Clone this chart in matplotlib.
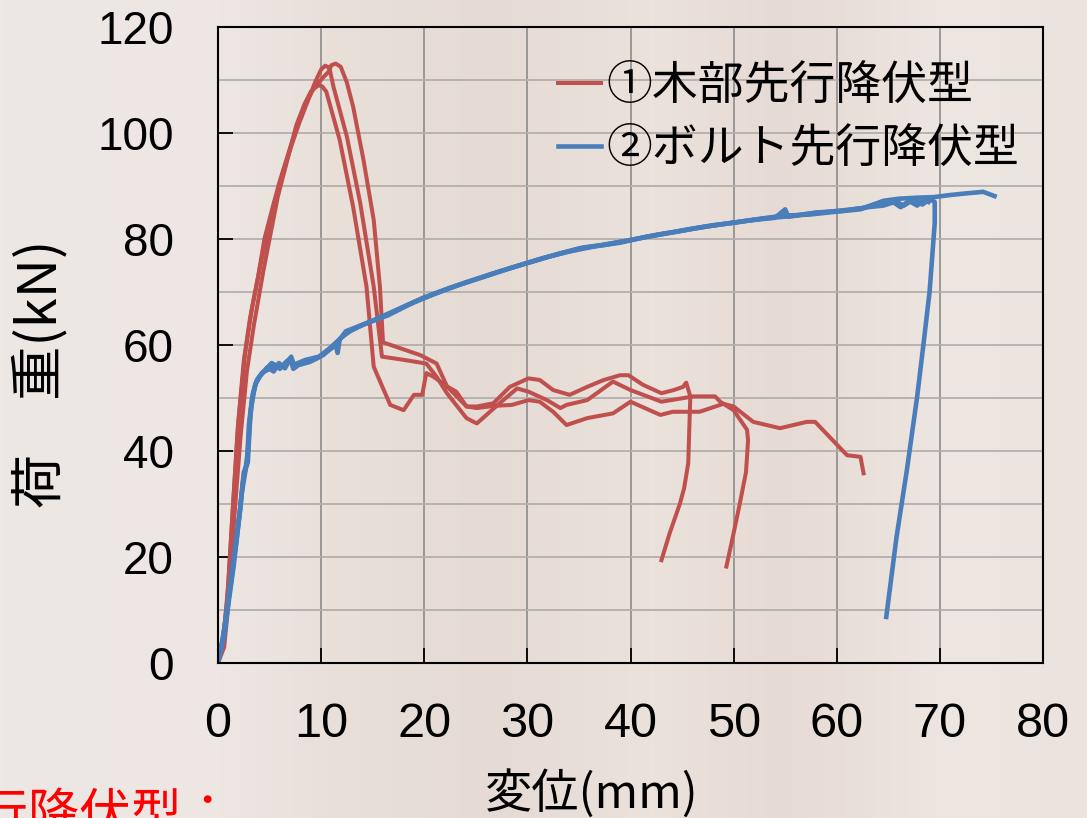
import matplotlib
matplotlib.use("Agg")
from matplotlib import pyplot as plt
from matplotlib import font_manager
from matplotlib.colors import LinearSegmentedColormap
import numpy as np

# 荷重-変位曲線 (① 木部先行降伏型 3体, ② ボルト先行降伏型 3体)
wood_a_x = [0, 0.4, 0.9, 1.4, 1.9, 2.5, 3.1, 3.9, 4.5, 5.3, 6.0, 6.8, 7.6, 8.5, 9.3, 10.2, 10.7, 11.0, 11.4, 11.9,
            12.5, 13.1, 14.1, 15.1, 15.7, 16.0, 17.5, 19.6, 21.2, 22.2, 24.1, 25.1, 26.7, 28.3, 30.1, 31.2, 32.5,
            34.1, 35.8, 37.4, 39.0, 39.8, 41.2, 43.0, 44.2, 45.1, 45.4, 45.8, 45.7, 45.6, 45.2, 44.8, 43.8, 43.0]
wood_a_y = [0, 3, 12, 28, 44, 57, 65, 73, 80, 86, 91, 96, 101, 105.5, 108.5, 110.5, 111.5, 112.8, 113.1, 112.5,
            109.5, 105, 95, 83.6, 71, 60.5, 59.5, 58.1, 56.5, 52.2, 48.4, 48.4, 49.0, 52.1, 53.7, 53.4, 51.5,
            50.6, 52.1, 53.4, 54.3, 54.3, 52.5, 50.9, 51.5, 52.1, 52.9, 50.3, 44, 37.7, 33, 30.1, 24.5, 19.4]

wood_b_x = [0, 0.5, 1.0, 1.5, 2.0, 2.6, 3.3, 4.1, 4.8, 5.5, 6.3, 7.1, 7.9, 8.7, 9.4, 10.0, 10.4, 10.8, 11.2, 12.5,
            13.8, 15.1, 15.9, 18.0, 20.2, 21.2, 22.2, 24.1, 25.1, 27.3, 29.0, 30.1, 31.9, 33.2, 33.8, 35.8, 38.3,
            40.0, 43.0, 46.1, 48.2, 48.7, 50.0, 51.3, 51.4, 51.2, 50.6, 50.0, 49.3]
wood_b_y = [0, 4, 15, 31, 46, 58, 67, 75, 81, 87, 92.5, 97.5, 102, 106, 109.5, 112, 112.7, 112.3, 108.7, 99.3,
            86.7, 71.0, 57.8, 57.2, 56.5, 54, 50.9, 46.2, 45.2, 49.0, 51.8, 51.2, 49.6, 48.1, 48.7, 49.6, 53.1,
            51.5, 49.3, 50.3, 50.3, 49.3, 47.7, 44.0, 42, 36, 30.1, 24.5, 18.2]

wood_c_x = [0, 0.6, 1.1, 1.6, 2.2, 2.8, 3.5, 4.4, 5.2, 5.8, 6.8, 7.6, 8.4, 9.0, 9.7, 10.1, 10.5, 11.8, 13.1, 14.4,
            15.1, 16.7, 18.0, 19.0, 19.8, 20.2, 20.9, 22.2, 23.1, 24.1, 25.1, 26.7, 28.5, 30.1, 31.2, 32.5, 33.8,
            35.8, 38.3, 40.0, 42.9, 44.1, 46.7, 49.0, 50.0, 51.9, 54.5, 57.1, 57.9, 61.0, 62.3, 62.6]
wood_c_y = [0, 3, 13, 28, 43, 55, 64, 74, 82, 88, 95.5, 101.5, 105.5, 107.8, 109, 108.8, 107.8, 98.7, 86.1, 71.0,
            55.9, 48.7, 47.7, 50.6, 50.6, 54.7, 54.0, 52.2, 51.2, 48.4, 48.1, 48.5, 48.7, 49.6, 49.3, 47.4, 44.9,
            46.2, 47.1, 49.3, 46.8, 47.4, 47.4, 48.9, 48.4, 45.5, 44.3, 45.5, 45.5, 39.2, 38.9, 35.8]

bolt_a_x = [0, 0.4, 0.8, 1.2, 1.6, 2.1, 2.4, 2.6, 2.9, 3.1, 3.4, 3.8, 4.3, 5.0, 5.5, 6.0, 6.6, 7.0, 7.3, 7.8, 8.9,
            10.2, 11.5, 12.2, 14, 16.0, 18.5, 20.9, 23.3, 25.7, 28.2, 30.6, 33, 35.4, 37.0, 40.0, 42.5, 44.8, 47.5,
            50.0, 52.5, 54.8, 57.3, 59.7, 62.3, 63.5, 64.5, 66, 67.8, 69.4, 71.0, 72.5, 74.2, 75.3]
bolt_a_y = [0, 4, 9, 15, 21, 28, 34, 36, 38, 46, 51, 53.5, 54.8, 55.5, 56.3, 55.5, 56.8, 57.5, 55.5, 56.2, 56.8,
            58.1, 60.3, 62, 63.8, 65.3, 67.6, 69.6, 71.3, 72.8, 74.4, 75.8, 77.2, 78.4, 78.8, 79.8, 80.8, 81.5, 82.4,
            83.1, 83.8, 84.4, 84.6, 85.1, 85.6, 86.4, 87.2, 87.6, 87.8, 87.9, 88.3, 88.6, 88.9, 88.1]

bolt_b_x = [0, 0.5, 0.9, 1.3, 1.8, 2.2, 2.5, 2.8, 3.0, 3.3, 3.7, 4.2, 4.8, 5.4, 5.9, 6.5, 7.1, 7.4, 8.2, 9.5,
            10.6, 11.4, 11.6, 11.8, 12.4, 14.5, 16.5, 19, 21.5, 24, 26.5, 29, 31.5, 34, 36.5, 39, 41.5, 44, 46.5,
            49, 51.5, 54, 55.0, 55.3, 57.5, 60, 62.5, 64, 65.5, 66.5, 67.5, 68.3, 69.0, 69.5, 69.5, 69.0, 68.4,
            67.8, 66.8, 65.8, 64.8]
bolt_b_y = [0, 5, 10, 16, 23, 30, 36, 37.5, 45, 50, 53, 54.5, 55.8, 55, 56.6, 55.6, 57.8, 56, 56.6, 57.4,
            58.8, 60, 58.5, 61, 62.6, 64.2, 65.6, 68.1, 70.0, 71.8, 73.4, 74.9, 76.4, 77.6, 78.6, 79.3, 80.4, 81.2,
            82.1, 82.8, 83.5, 84.0, 85.6, 84.2, 84.8, 85.3, 85.8, 86.8, 87.3, 86.3, 87.5, 86.5, 87.5, 87.0, 83, 70,
            60, 50.3, 36.4, 23.8, 8.7]

bolt_c_x = [0, 0.6, 1.0, 1.5, 1.9, 2.3, 2.6, 2.9, 3.2, 3.6, 4.1, 4.6, 5.2, 5.8, 6.3, 6.8, 7.5, 8.5, 9.8, 10.9,
            11.9, 13, 15, 17.5, 20, 22.5, 25, 27.5, 30, 32.5, 35, 37.5, 40.5, 43, 45.5, 48, 50.5, 53, 55.5, 58,
            60.5, 63, 64.5, 65.5, 66.2, 67.0, 67.8, 68.5, 68.9]
bolt_c_y = [0, 5, 11, 18, 25, 32, 35.5, 40, 48, 52.5, 54.2, 55.3, 56.6, 55.8, 56.2, 57.0, 56.4, 57.2, 57.8, 59.5,
            61.3, 62.9, 64.6, 66.8, 69.0, 70.8, 72.4, 74.0, 75.5, 76.9, 78.2, 78.9, 80.0, 80.9, 81.8, 82.6, 83.2,
            83.9, 84.3, 85.0, 85.3, 86.0, 86.3, 86.9, 86.0, 87.2, 86.3, 87.5, 87.0]

labels = ["①木部先行降伏型", "②ボルト先行降伏型"]
x_ticks = list(range(0, 81, 10))
y_ticks = list(range(0, 121, 20))

red = "#c0504d"
blue = "#4a7ebb"
jp = "Noto Sans CJK JP"
names = {f.name for f in font_manager.fontManager.ttflist}
narrow = "Liberation Sans Narrow" if "Liberation Sans Narrow" in names else "Liberation Sans"

fig = plt.figure(figsize=(10.87, 8.18), dpi=100)
fig.patch.set_facecolor("#ebe3dd")

# 木目っぽい背景 (淡い縦方向のグラデーション)
bg = fig.add_axes([0, 0, 1, 1], zorder=-10)
cmap = LinearSegmentedColormap.from_list("wood", [
    (0.0, "#eee8e5"), (0.2, "#ede6e2"), (0.3, "#e9e0da"), (0.45, "#e5dbd4"), (0.6, "#ebe2dc"),
    (0.72, "#e6dbd4"), (0.88, "#eee6e1"), (1.0, "#ebe3dd")])
bg.imshow(np.linspace(0, 1, 256)[None, :], aspect="auto", cmap=cmap, extent=[0, 1, 0, 1])
bg.axis("off")

ax = fig.add_axes([218 / 1087, 1 - 663 / 818, 825 / 1087, 636 / 818])
ax.patch.set_alpha(0)

l1, = ax.plot(wood_a_x, wood_a_y, color=red, lw=2.9)
ax.plot(wood_b_x, wood_b_y, color=red, lw=2.9)
ax.plot(wood_c_x, wood_c_y, color=red, lw=2.9)
l2, = ax.plot(bolt_a_x, bolt_a_y, color=blue, lw=3.3)
ax.plot(bolt_b_x, bolt_b_y, color=blue, lw=3.3)
ax.plot(bolt_c_x, bolt_c_y, color=blue, lw=3.3)

ax.set_xlim(0, 80)
ax.set_ylim(0, 120)
ax.set_xticks(x_ticks)
ax.set_yticks(y_ticks)
ax.set_yticks(range(0, 121, 10), minor=True)
ax.yaxis.grid(True, which="both", color="#b3afac", lw=1.3)
ax.xaxis.grid(True, which="major", color="#8c8c8c", lw=1.2)
ax.set_axisbelow(True)
ax.tick_params(which="major", direction="in", length=11, width=1.3, top=False, right=False)
ax.tick_params(which="minor", length=0)
ax.tick_params(axis="y", pad=32)
ax.tick_params(axis="x", pad=28)
for t in ax.get_yticklabels():
    t.set_fontfamily("Liberation Sans")
    t.set_fontsize(33)
for t in ax.get_xticklabels():
    t.set_fontfamily(narrow)
    t.set_fontsize(35)
for s in ax.spines.values():
    s.set_color("black")
    s.set_linewidth(1.5)

ax.legend([l1, l2], labels, loc="upper left", bbox_to_anchor=(0.412, 0.946), frameon=False,
          prop={"family": jp, "size": 33}, handlelength=0.95, handletextpad=0.1,
          labelspacing=0.33, borderpad=0, borderaxespad=0)

fig.text(592 / 1087, 1 - 794 / 818, "変位(mm)", family=jp, fontsize=34, ha="center", va="center")
fig.text(41 / 1087, 1 - 374 / 818, "荷　重(kN)", family=jp, fontsize=39, rotation=90,
         ha="center", va="center")
fig.text(234 / 1087, 1 - 816 / 818, "①木部先行降伏型：", family=jp, fontsize=37, color="red",
         ha="right", va="center")

fig.savefig("out.png", dpi=100, facecolor=fig.get_facecolor())
